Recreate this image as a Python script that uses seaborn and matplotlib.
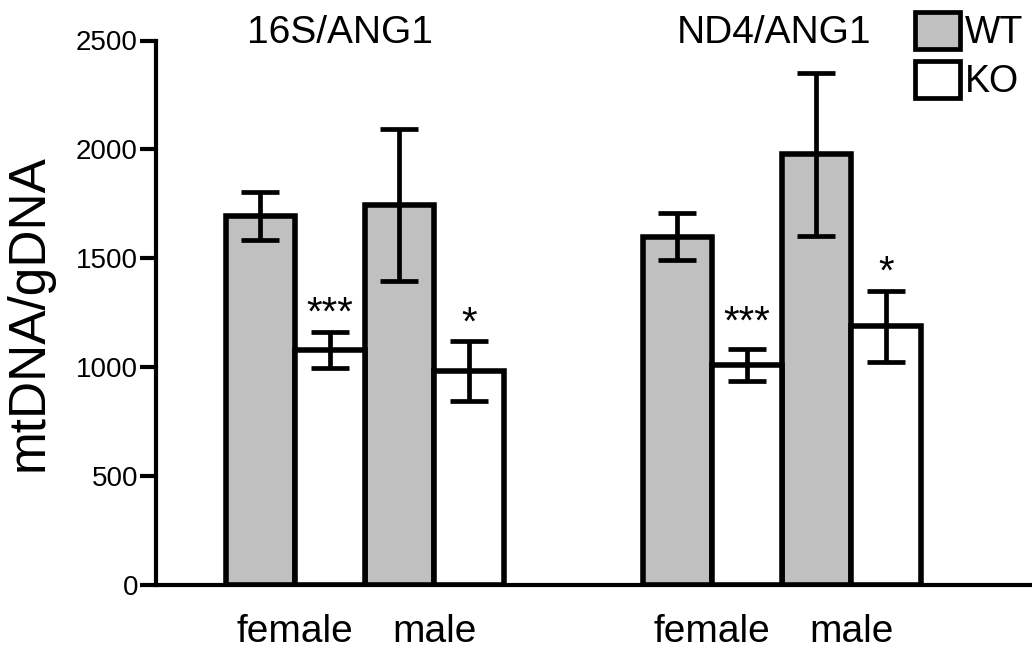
import matplotlib
matplotlib.use("Agg")
import matplotlib.pyplot as plt
from matplotlib.patches import Patch
from matplotlib.transforms import blended_transform_factory
import numpy as np
import pandas as pd
import seaborn as sns

# Targets (panels), sexes and genotypes
groups = ["16S/ANG1", "ND4/ANG1"]
sexes = ["female", "male"]
genotypes = ["WT", "KO"]

# Mean mtDNA/gDNA ratio and SEM, per target, ordered female, male
wt_16s_mean = [1695, 1745]
wt_16s_sem = [110, 347]
ko_16s_mean = [1080, 983]
ko_16s_sem = [83, 136]

wt_nd4_mean = [1600, 1978]
wt_nd4_sem = [106, 375]
ko_nd4_mean = [1010, 1187]
ko_nd4_sem = [75, 165]

# Significance of KO vs WT, per target, ordered female, male
stars_16s = ["***", "*"]
stars_nd4 = ["***", "*"]

y_ticks = [0, 500, 1000, 1500, 2000, 2500]

means = {("16S/ANG1", "WT"): wt_16s_mean, ("16S/ANG1", "KO"): ko_16s_mean,
         ("ND4/ANG1", "WT"): wt_nd4_mean, ("ND4/ANG1", "KO"): ko_nd4_mean}
sems = {("16S/ANG1", "WT"): wt_16s_sem, ("16S/ANG1", "KO"): ko_16s_sem,
        ("ND4/ANG1", "WT"): wt_nd4_sem, ("ND4/ANG1", "KO"): ko_nd4_sem}
stars = {"16S/ANG1": stars_16s, "ND4/ANG1": stars_nd4}

# Layout: 4 adjacent bars per target, targets separated by a two-bar gap
rows = []
for gi, grp in enumerate(groups):
    for si, sex in enumerate(sexes):
        for ki, geno in enumerate(genotypes):
            rows.append(dict(group=grp, sex=sex, genotype=geno,
                             pos=gi * 6 + si * 2 + ki + 0.5,
                             value=means[(grp, geno)][si],
                             err=sems[(grp, geno)][si]))
df = pd.DataFrame(rows)

sns.set_style("white")
plt.rcParams["font.family"] = ["Liberation Sans", "DejaVu Sans"]
for key in ("text.color", "axes.labelcolor", "xtick.color", "ytick.color"):
    plt.rcParams[key] = "black"

W, H = 1032, 661
fig = plt.figure(figsize=(W / 100, H / 100), dpi=100)
ax = fig.add_axes([156 / W, 76 / H, 1 - 156 / W, (585 - 40.5) / H])

palette = {"WT": "#c0c0c0", "KO": "#ffffff"}
sns.barplot(data=df, x="pos", y="value", hue="genotype", hue_order=genotypes,
            palette=palette, saturation=1, native_scale=True, width=1,
            dodge=False, errorbar=None, edgecolor="black", linewidth=4,
            legend=False, ax=ax)

eb = ax.errorbar(df["pos"], df["value"], yerr=df["err"], fmt="none", ecolor="black",
                 elinewidth=3.4, capsize=13.5, capthick=3.4, zorder=5)
for cap in eb[1]:
    cap.set_solid_capstyle("round")

# Significance stars above the KO error bars
star_lift = {("ND4/ANG1", "female"): 6}
for grp in groups:
    for si, sex in enumerate(sexes):
        r = df[(df.group == grp) & (df.sex == sex) & (df.genotype == "KO")].iloc[0]
        ax.annotate(stars[grp][si], xy=(r["pos"], r["value"] + r["err"]),
                    xytext=(0, -1 + star_lift.get((grp, sex), 0)),
                    textcoords="offset points", ha="center", va="bottom",
                    fontsize=29, zorder=6)

# Panel titles
trans = blended_transform_factory(ax.transData, ax.transAxes)
title_shift = [-17.6, -5.4]
for gi, grp in enumerate(groups):
    ax.annotate(grp, xy=(gi * 6 + 2, 1), xycoords=trans,
                xytext=(title_shift[gi], -2), textcoords="offset points",
                ha="center", va="baseline", fontsize=28, annotation_clip=False)

ax.set_xlim(-1, 11.6)
ax.set_ylim(0, 2500)
ax.set_yticks(y_ticks)
ax.set_yticklabels([str(t) for t in y_ticks])
ax.set_xticks([gi * 6 + si * 2 + 1 for gi in range(len(groups)) for si in range(len(sexes))])
ax.set_xticklabels(sexes * len(groups))
ax.tick_params(axis="x", length=0, pad=21, labelsize=28)
ax.tick_params(axis="y", left=True, length=11.5, width=3, pad=1.5, labelsize=20,
               direction="out", color="black")
ax.set_xlabel("")
ax.set_ylabel("mtDNA/gDNA", fontsize=37, labelpad=16)

sns.despine(ax=ax)
for side in ("left", "bottom"):
    ax.spines[side].set_linewidth(3)
    ax.spines[side].set_color("black")
    ax.spines[side].set_capstyle("projecting")

handles = [Patch(facecolor=palette[g], edgecolor="black", linewidth=3.4) for g in genotypes]
leg = fig.legend(handles, genotypes, loc="upper left", bbox_to_anchor=(915 / W, 1 - 12 / H),
                 frameon=False, fontsize=27, handlelength=1.2, handleheight=1.15,
                 handletextpad=0.12, labelspacing=0.25, borderpad=0, borderaxespad=0)

fig.savefig("out.png", dpi=100)
